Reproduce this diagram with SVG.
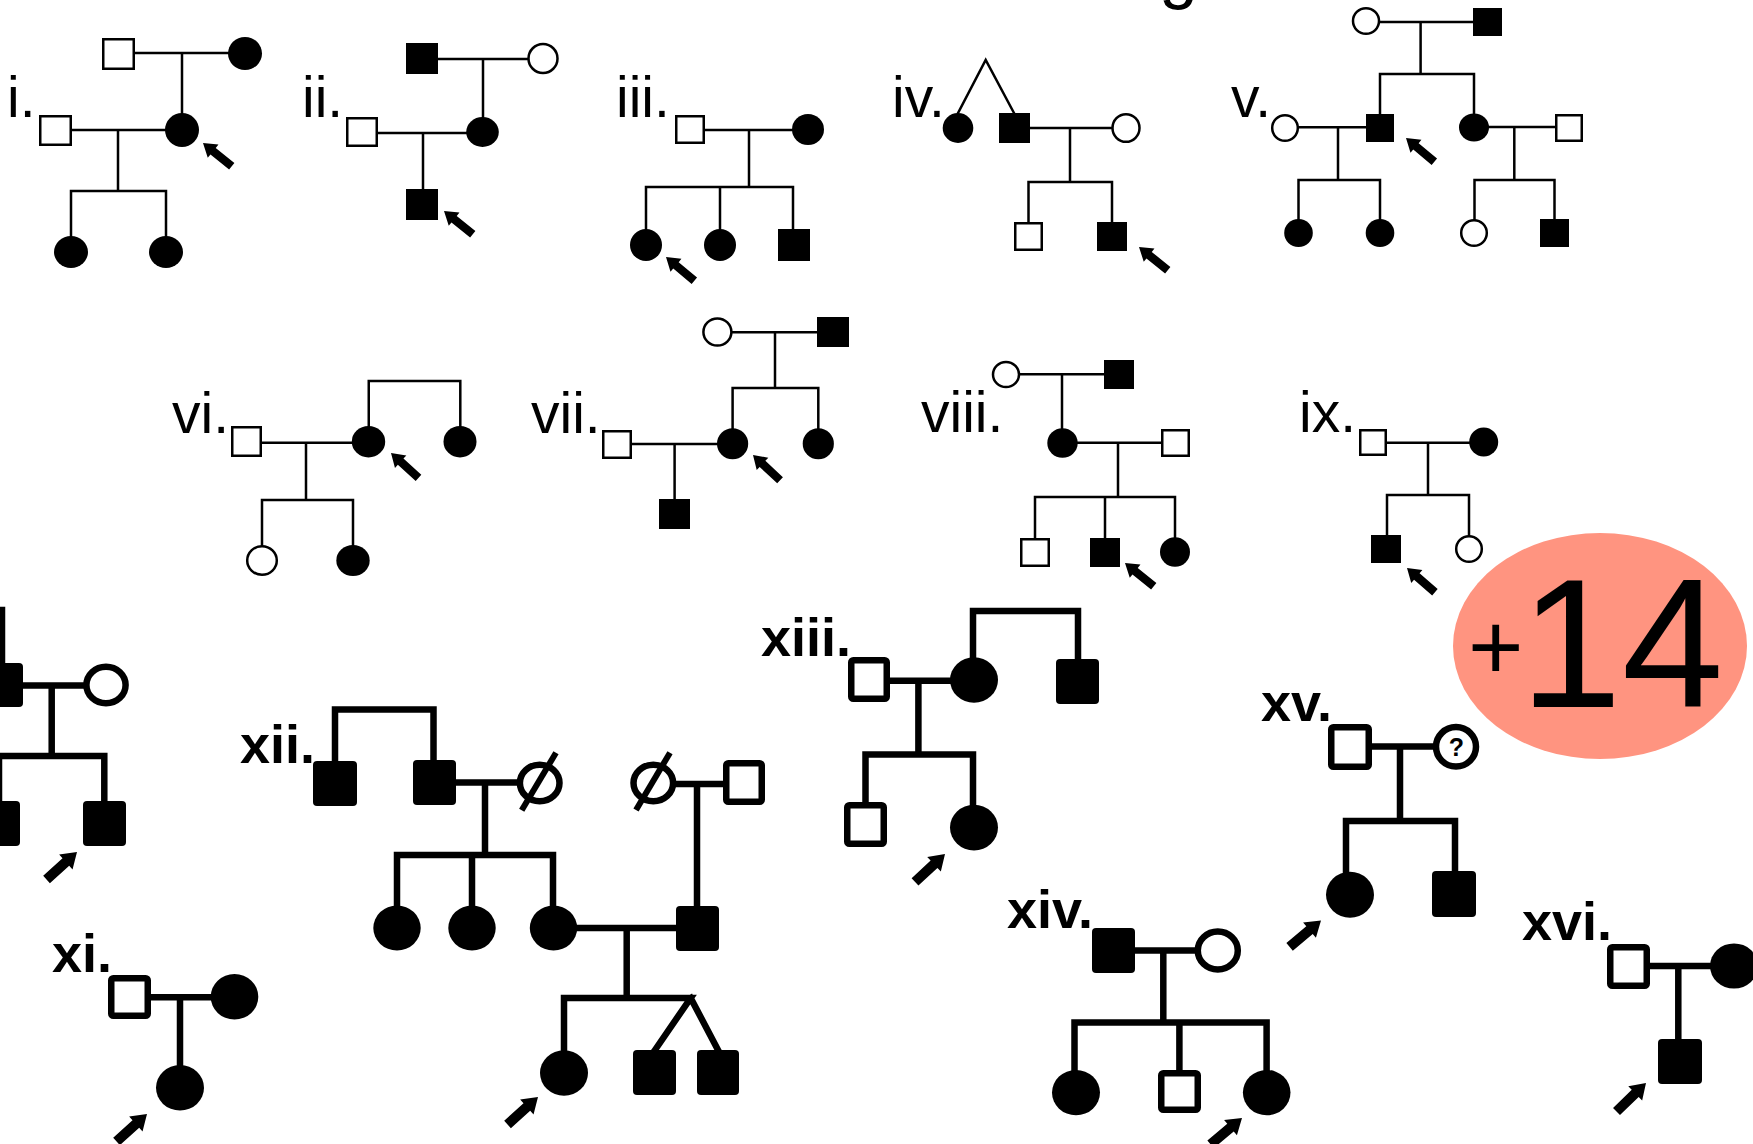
<svg xmlns="http://www.w3.org/2000/svg" xmlns:xlink="http://www.w3.org/1999/xlink" width="1753" height="1144" viewBox="0 0 1753 1144">
<defs>
<style>
.t{fill:none;stroke:#000;stroke-width:2.5;stroke-linecap:square;stroke-linejoin:miter}
.k{fill:none;stroke:#000;stroke-width:6.5;stroke-linecap:square;stroke-linejoin:miter}
.f{fill:#000}
.o{fill:#fff;stroke:#000;stroke-width:2.5}
.O{fill:#fff;stroke:#000;stroke-width:6.5}
.sl{stroke:#000;stroke-width:6;stroke-linecap:butt}
.lab{font-family:"Liberation Sans",Arial,sans-serif;font-size:57px;fill:#000}
.labB{font-family:"Liberation Sans",Arial,sans-serif;font-size:54px;font-weight:bold;fill:#000}
.ar{fill:#000}
</style>
<path id="arT" d="M0,0 L-13,-8.5 L-13,-4.2 L-37,-4.2 L-37,4.2 L-13,4.2 L-13,8.5 Z"/>
<path id="arB" d="M0,0 L-15,-10 L-15,-5 L-41,-5 L-41,5 L-15,5 L-15,10 Z"/>
</defs>
<rect x="0" y="0" width="1753" height="1144" fill="#fff"/>

<text class="lab" x="1159" y="-5" style="font-size:70px">g</text>

<g id="connectors">
<!-- i -->
<path class="t" d="M118.5,53 H245 M182,53 V130 M55.5,130 H182 M118,130 V191 M71,252 V191 H166 V252"/>
<!-- ii -->
<path class="t" d="M422,59 H543 M483,59 V132 M362,133 H482 M423,133 V204"/>
<!-- iii -->
<path class="t" d="M690,130 H808 M749,130 V187 M646,245 V187 H793 V245 M720,187 V245"/>
<!-- iv -->
<path class="t" d="M958,113 L985.7,60 L1014,113 M1014,128 H1126 M1070,128 V182 M1028.5,237 V182 H1112 V237"/>
<!-- v -->
<path class="t" d="M1366,22 H1487 M1420.6,22 V74 M1380,128 V74 H1474 V128 M1285,127.3 H1380 M1338,127.3 V180 M1298.5,233 V180 H1380 V233 M1474,127 H1569 M1514.3,127 V180 M1474.5,233 V180 H1554.5 V233"/>
<!-- vi -->
<path class="t" d="M246.5,442.7 H368.5 M306,442.7 V500 M262,560 V500 H353 V560 M368.75,441.7 V381 H460.3 V441.7"/>
<!-- vii -->
<path class="t" d="M717.4,332.3 H833 M775,332.3 V388 M732.6,443.8 V388 H818.3 V443.8 M617,444 H732.6 M674.6,444 V514"/>
<!-- viii -->
<path class="t" d="M1006,374.3 H1119 M1062,374.3 V443 M1062.5,442.7 H1175.5 M1118,442.7 V497 M1035,552 V497 H1175 V552 M1105,497 V552"/>
<!-- ix -->
<path class="t" d="M1373,442.7 H1483.7 M1428,442.7 V495 M1387,549 V495 H1469 V549"/>
<!-- x (partial) -->
<path class="k" d="M2,610 V685 M1,685.4 H106 M51.7,685.4 V756 M-1,823 V756 H104.3 V823"/>
<!-- xi -->
<path class="k" d="M129.5,997.3 H234.5 M180,997.3 V1087.8"/>
<!-- xii -->
<path class="k" d="M335,783 V709.5 H433.5 V782 M434.5,782.5 H539.7 M485,782.5 V855 M397,928 V855 H553 V928 M472,855 V928 M553,928 H697.5 M626.7,928 V998 M564,1073 V998 H690.7 L655,1050 M690.7,998 L718,1050 M653.3,784 H744 M697,784 V928"/>
<!-- xiii -->
<path class="k" d="M869,680.7 H974 M918.4,680.7 V754.5 M865.5,824.5 V754.5 H973 V827.6 M973,680 V611 H1078 V681.5"/>
<!-- xiv -->
<path class="k" d="M1113.5,950.5 H1217.8 M1163.3,950.5 V1022.5 M1074.5,1092.6 V1022.5 H1266.6 V1092.6 M1179.4,1022.5 V1091"/>
<!-- xv -->
<path class="k" d="M1350,746.4 H1456 M1400,746.4 V821 M1346,894.7 V821 H1455 V894"/>
<!-- xvi -->
<path class="k" d="M1628.5,966 H1734 M1678.3,966 V1061"/>
</g>

<g id="ped-i">
<text class="lab" x="7" y="117">i.</text>
<g id="i-1"><rect class="o" x="103.25" y="39.25" width="30.5" height="29.5"/></g>
<g id="i-2"><ellipse class="f" cx="245" cy="53.5" rx="17" ry="16.5"/></g>
<g id="i-3"><rect class="o" x="40.25" y="116.25" width="30.5" height="28.5"/></g>
<g id="i-4"><ellipse class="f" cx="182" cy="130" rx="17" ry="17"/></g>
<g id="i-5"><ellipse class="f" cx="71" cy="252" rx="17" ry="16"/></g>
<g id="i-6"><ellipse class="f" cx="166" cy="252" rx="17" ry="16"/></g>
<use href="#arT" class="ar" transform="translate(203,143) rotate(219)"/>
</g>

<g id="ped-ii">
<text class="lab" x="302" y="117">ii.</text>
<g id="ii-1"><rect class="f" x="406" y="43" width="32" height="31"/></g>
<g id="ii-2"><ellipse class="o" cx="543" cy="58.5" rx="14.5" ry="14.5"/></g>
<g id="ii-3"><rect class="o" x="347.25" y="118.25" width="29.5" height="27.5"/></g>
<g id="ii-4"><ellipse class="f" cx="482.5" cy="132" rx="16.3" ry="15"/></g>
<g id="ii-5"><rect class="f" x="406" y="189" width="32" height="31"/></g>
<use href="#arT" class="ar" transform="translate(444,211) rotate(219)"/>
</g>

<g id="ped-iii">
<text class="lab" x="616" y="117">iii.</text>
<g id="iii-1"><rect class="o" x="676.25" y="116.25" width="27.5" height="26.5"/></g>
<g id="iii-2"><ellipse class="f" cx="808" cy="129.5" rx="16" ry="15.5"/></g>
<g id="iii-3"><ellipse class="f" cx="646" cy="245" rx="16" ry="16"/></g>
<g id="iii-4"><ellipse class="f" cx="720" cy="245" rx="16" ry="16"/></g>
<g id="iii-5"><rect class="f" x="778" y="229" width="32" height="32"/></g>
<use href="#arT" class="ar" transform="translate(666,257) rotate(220)"/>
</g>

<g id="ped-iv">
<text class="lab" x="892" y="117">iv.</text>
<g id="iv-1"><ellipse class="f" cx="958" cy="128" rx="15.3" ry="15"/></g>
<g id="iv-2"><rect class="f" x="999" y="113" width="31" height="30"/></g>
<g id="iv-3"><ellipse class="o" cx="1126" cy="128" rx="13.5" ry="13.8"/></g>
<g id="iv-4"><rect class="o" x="1015.25" y="223.25" width="26.5" height="26.5"/></g>
<g id="iv-5"><rect class="f" x="1097" y="222" width="30" height="29"/></g>
<use href="#arT" class="ar" transform="translate(1139,247) rotate(219)"/>
</g>

<g id="ped-v">
<text class="lab" x="1231" y="117">v.</text>
<g id="v-1"><ellipse class="o" cx="1366" cy="21" rx="13" ry="12.8"/></g>
<g id="v-2"><rect class="f" x="1473" y="8" width="29" height="28"/></g>
<g id="v-3"><ellipse class="o" cx="1285" cy="128" rx="12.8" ry="12.8"/></g>
<g id="v-4"><rect class="f" x="1366" y="114" width="28" height="28"/></g>
<g id="v-5"><ellipse class="f" cx="1474" cy="127.5" rx="15" ry="14"/></g>
<g id="v-6"><rect class="o" x="1556.25" y="115.25" width="25.5" height="25.5"/></g>
<g id="v-7"><ellipse class="f" cx="1298.5" cy="233" rx="14.3" ry="14"/></g>
<g id="v-8"><ellipse class="f" cx="1380" cy="233" rx="14.3" ry="14"/></g>
<g id="v-9"><ellipse class="o" cx="1474" cy="233" rx="12.8" ry="12.8"/></g>
<g id="v-10"><rect class="f" x="1540" y="219" width="29" height="28"/></g>
<use href="#arT" class="ar" transform="translate(1406,138) rotate(220)"/>
</g>

<g id="ped-vi">
<text class="lab" x="172" y="433">vi.</text>
<g id="vi-1"><rect class="o" x="232.25" y="427.25" width="28.5" height="28.5"/></g>
<g id="vi-2"><ellipse class="f" cx="368.5" cy="441.7" rx="16.7" ry="15.7"/></g>
<g id="vi-3"><ellipse class="f" cx="460" cy="441.7" rx="16.5" ry="15.7"/></g>
<g id="vi-4"><ellipse class="o" cx="262" cy="560.5" rx="14.8" ry="14.3"/></g>
<g id="vi-5"><ellipse class="f" cx="353" cy="560.5" rx="16.7" ry="15.5"/></g>
<use href="#arT" class="ar" transform="translate(391,453) rotate(222)"/>
</g>

<g id="ped-vii">
<text class="lab" x="531" y="433">vii.</text>
<g id="vii-1"><ellipse class="o" cx="717.4" cy="332" rx="14" ry="13.5"/></g>
<g id="vii-2"><rect class="f" x="817" y="317" width="32" height="30"/></g>
<g id="vii-3"><rect class="o" x="603.25" y="431.25" width="27.5" height="26.5"/></g>
<g id="vii-4"><ellipse class="f" cx="732.6" cy="443.8" rx="15.6" ry="15.5"/></g>
<g id="vii-5"><ellipse class="f" cx="818.3" cy="443.8" rx="15.6" ry="15.5"/></g>
<g id="vii-6"><rect class="f" x="659" y="499" width="31" height="30"/></g>
<use href="#arT" class="ar" transform="translate(753,455) rotate(223)"/>
</g>

<g id="ped-viii">
<text class="lab" x="921" y="432">viii.</text>
<g id="viii-1"><ellipse class="o" cx="1006" cy="374.5" rx="13" ry="12.6"/></g>
<g id="viii-2"><rect class="f" x="1104" y="360" width="30" height="29"/></g>
<g id="viii-3"><ellipse class="f" cx="1062.5" cy="443" rx="15.2" ry="14.7"/></g>
<g id="viii-4"><rect class="o" x="1162.25" y="430.25" width="26.5" height="25.5"/></g>
<g id="viii-5"><rect class="o" x="1021.25" y="539.25" width="27.5" height="26.5"/></g>
<g id="viii-6"><rect class="f" x="1090" y="538" width="30" height="29"/></g>
<g id="viii-7"><ellipse class="f" cx="1175" cy="552" rx="15" ry="14.7"/></g>
<use href="#arT" class="ar" transform="translate(1125,563) rotate(219)"/>
</g>

<g id="ped-ix">
<text class="lab" x="1299" y="432">ix.</text>
<g id="ix-1"><rect class="o" x="1360.25" y="430.25" width="25.5" height="24.5"/></g>
<g id="ix-2"><ellipse class="f" cx="1483.7" cy="442" rx="14.5" ry="14.5"/></g>
<g id="ix-3"><rect class="f" x="1371" y="535" width="30" height="28"/></g>
<g id="ix-4"><ellipse class="o" cx="1469" cy="549" rx="12.8" ry="12.8"/></g>
<use href="#arT" class="ar" transform="translate(1407,568) rotate(221)"/>
</g>

<g id="ped-x">
<g id="x-1"><rect class="f" x="-21" y="663" width="44" height="44" rx="4"/></g>
<g id="x-2"><ellipse class="O" cx="106" cy="685" rx="19.6" ry="18.3"/></g>
<g id="x-3"><rect class="f" x="-23" y="801" width="43" height="45" rx="4"/></g>
<g id="x-4"><rect class="f" x="83" y="801" width="43" height="45" rx="4"/></g>
<use href="#arB" class="ar" transform="translate(77,852) rotate(-42)"/>
</g>

<g id="ped-xi">
<text class="labB" x="52" y="972">xi.</text>
<g id="xi-1"><rect class="O" x="111.25" y="978.25" width="36.5" height="37.5" rx="2"/></g>
<g id="xi-2"><ellipse class="f" cx="234.5" cy="996.8" rx="23.8" ry="22.8"/></g>
<g id="xi-3"><ellipse class="f" cx="180" cy="1087.8" rx="24" ry="22.8"/></g>
<use href="#arB" class="ar" transform="translate(147,1114) rotate(-42)"/>
</g>

<g id="ped-xii">
<text class="labB" x="240" y="763">xii.</text>
<g id="xii-1"><rect class="f" x="313" y="761" width="44" height="45" rx="4"/></g>
<g id="xii-2"><rect class="f" x="413" y="760" width="43" height="45" rx="4"/></g>
<g id="xii-3"><ellipse class="O" cx="539.7" cy="783" rx="19.8" ry="18.3"/><line class="sl" x1="521.7" y1="810.2" x2="556" y2="752.7"/></g>
<g id="xii-4"><ellipse class="O" cx="653.3" cy="783" rx="19.8" ry="18.3"/><line class="sl" x1="636" y1="810" x2="670" y2="752.7"/></g>
<g id="xii-5"><rect class="O" x="726.25" y="763.25" width="35.5" height="38.5" rx="2"/></g>
<g id="xii-6"><ellipse class="f" cx="397" cy="928" rx="23.7" ry="22.5"/></g>
<g id="xii-7"><ellipse class="f" cx="472" cy="928" rx="23.7" ry="22.5"/></g>
<g id="xii-8"><ellipse class="f" cx="553.5" cy="928" rx="23.7" ry="22.5"/></g>
<g id="xii-9"><rect class="f" x="676" y="906" width="43" height="45" rx="4"/></g>
<g id="xii-10"><ellipse class="f" cx="564" cy="1073" rx="24" ry="22.8"/></g>
<g id="xii-11"><rect class="f" x="633" y="1050" width="43" height="45" rx="4"/></g>
<g id="xii-12"><rect class="f" x="697" y="1050" width="42" height="45" rx="4"/></g>
<use href="#arB" class="ar" transform="translate(538,1097) rotate(-42)"/>
</g>

<g id="ped-xiii">
<text class="labB" x="761" y="656">xiii.</text>
<g id="xiii-1"><rect class="O" x="851.25" y="660.25" width="35.5" height="38.5" rx="2"/></g>
<g id="xiii-2"><ellipse class="f" cx="974" cy="680" rx="24" ry="22.8"/></g>
<g id="xiii-3"><rect class="f" x="1056" y="659" width="43" height="45" rx="4"/></g>
<g id="xiii-4"><rect class="O" x="847.25" y="805.25" width="36.5" height="38.5" rx="2"/></g>
<g id="xiii-5"><ellipse class="f" cx="974" cy="827.6" rx="24" ry="22.8"/></g>
<use href="#arB" class="ar" transform="translate(945,854) rotate(-43)"/>
</g>

<g id="ped-xiv">
<text class="labB" x="1007" y="928">xiv.</text>
<g id="xiv-1"><rect class="f" x="1092" y="928" width="43" height="45" rx="4"/></g>
<g id="xiv-2"><ellipse class="O" cx="1217.8" cy="950.5" rx="20" ry="19"/></g>
<g id="xiv-3"><ellipse class="f" cx="1076" cy="1092.6" rx="24" ry="22.7"/></g>
<g id="xiv-4"><rect class="O" x="1161.25" y="1073.25" width="36.5" height="36.5" rx="2"/></g>
<g id="xiv-5"><ellipse class="f" cx="1266.7" cy="1092.6" rx="23.8" ry="22.7"/></g>
<use href="#arB" class="ar" transform="translate(1242,1118) rotate(-40)"/>
</g>

<g id="ped-xv">
<text class="labB" x="1261" y="721">xv.</text>
<g id="xv-1"><rect class="O" x="1331.25" y="727.25" width="37.5" height="39.5" rx="2"/></g>
<g id="xv-2"><ellipse class="O" cx="1456" cy="746.8" rx="20" ry="19.7"/><text x="1456.5" y="755.5" text-anchor="middle" style="font-family:'Liberation Sans',Arial,sans-serif;font-size:25px;font-weight:bold">?</text></g>
<g id="xv-3"><ellipse class="f" cx="1350" cy="894.7" rx="24" ry="23"/></g>
<g id="xv-4"><rect class="f" x="1432" y="871" width="44" height="46" rx="4"/></g>
<use href="#arB" class="ar" transform="translate(1321,920.5) rotate(-40)"/>
</g>

<g id="ped-xvi">
<text class="labB" x="1522" y="940">xvi.</text>
<g id="xvi-1"><rect class="O" x="1610.25" y="947.25" width="36.5" height="38.5" rx="2"/></g>
<g id="xvi-2"><ellipse class="f" cx="1734" cy="966" rx="24" ry="22.6"/></g>
<g id="xvi-3"><rect class="f" x="1658" y="1039" width="44" height="45" rx="4"/></g>
<use href="#arB" class="ar" transform="translate(1646,1083) rotate(-44)"/>
</g>

<g id="badge">
<ellipse cx="1600" cy="646" rx="147" ry="113" fill="#FF9480"/>
<text x="1468" y="678.5" style="font-family:'Liberation Sans',Arial,sans-serif;font-size:95px">+</text>
<text x="1520" y="707" style="font-family:'Liberation Sans',Arial,sans-serif;font-size:183px">14</text>
</g>
</svg>
